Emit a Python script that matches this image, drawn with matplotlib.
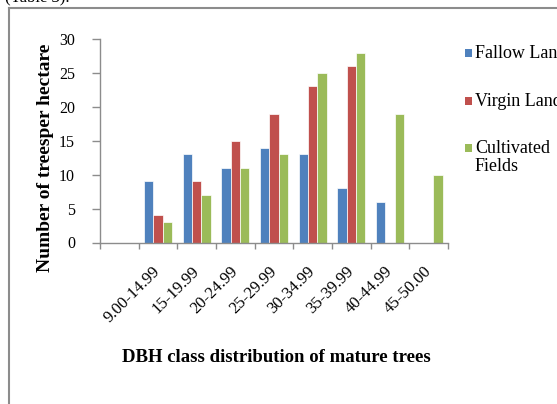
import numpy as np
import matplotlib
matplotlib.use('Agg')
import matplotlib.pyplot as plt
from matplotlib.patches import Rectangle
from matplotlib.lines import Line2D

plt.rcParams['font.family'] = ['Liberation Serif', 'DejaVu Serif']

# Data
dbh_classes = ['', '9.00-14.99', '15-19.99', '20-24.99', '25-29.99',
               '30-34.99', '35-39.99', '40-44.99', '45-50.00']
fallow_land = [np.nan, 9, 13, 11, 14, 13, 8, 6, np.nan]
virgin_land = [np.nan, 4, 9, 15, 19, 23, 26, np.nan, np.nan]
cultivated_fields = [np.nan, 3, 7, 11, 13, 25, 28, 19, 10]
series_names = ['Fallow Land', 'Virgin Land', 'Cultivated\nFields']
colors = ['#4F81BD', '#C0504D', '#9BBB59']

W, H = 557, 404
fig = plt.figure(figsize=(W / 100, H / 100), dpi=100)
ax = fig.add_axes([100 / W, 1 - 242.5 / H, 348 / W, (242.5 - 39) / H])

x = np.arange(len(dbh_classes))
width = 0.24
for i, (vals, c) in enumerate(zip([fallow_land, virgin_land, cultivated_fields], colors)):
    ax.bar(x + (i - 1) * width, vals, width, color=c, edgecolor='white', linewidth=0.5)

ax.set_xlim(-0.5, len(dbh_classes) - 0.5)
ax.set_ylim(0, 30)
ax.set_yticks(range(0, 31, 5))
ax.set_xticks(x)
ax.set_xticklabels(dbh_classes, rotation=45, ha='right', va='center',
                   rotation_mode='anchor', fontsize=12)
ax.set_xticks(np.arange(-0.5, len(dbh_classes)), minor=True)
ax.tick_params(axis='x', which='major', length=0, pad=19)
ax.tick_params(axis='x', which='minor', length=4, color='#8c8c8c', width=1)
ax.tick_params(axis='y', length=6, color='#8c8c8c', width=1, labelsize=11.5, pad=12)

for side in ['top', 'right']:
    ax.spines[side].set_visible(False)
for side in ['left', 'bottom']:
    ax.spines[side].set_color('#8c8c8c')
    ax.spines[side].set_linewidth(1)

fig.text(46 / W, 1 - 158 / H, 'Number of treesper hectare', rotation=90,
         ha='center', va='center', fontsize=14, fontweight='bold')
fig.text(276 / W, 1 - 358 / H, 'DBH class distribution of mature trees',
         ha='center', va='center', fontsize=13.5, fontweight='bold')

# legend drawn by hand to keep the squares on the first text line
leg_y = [53, 101, 148]
for name, c, yy in zip(series_names, colors, leg_y):
    fig.patches.append(Rectangle((465 / W, 1 - (yy + 4) / H), 7 / W, 8 / H,
                                 facecolor=c, transform=fig.transFigure))
    fig.text(475 / W, 1 - (yy - 8) / H, name, ha='left', va='top',
             fontsize=13, linespacing=1.1)

# outer frame of the chart area
fig.add_artist(Line2D([9 / W, 9 / W], [0, 1 - 7.5 / H], color='#8c8c8c', lw=1.5))
fig.add_artist(Line2D([9 / W, 1], [1 - 7.5 / H, 1 - 7.5 / H], color='#8c8c8c', lw=1.5))
fig.text(5 / W, 1 - 1 / H, '(Table 3).', ha='left', va='baseline', fontsize=12)

fig.savefig('out.png', dpi=100)
